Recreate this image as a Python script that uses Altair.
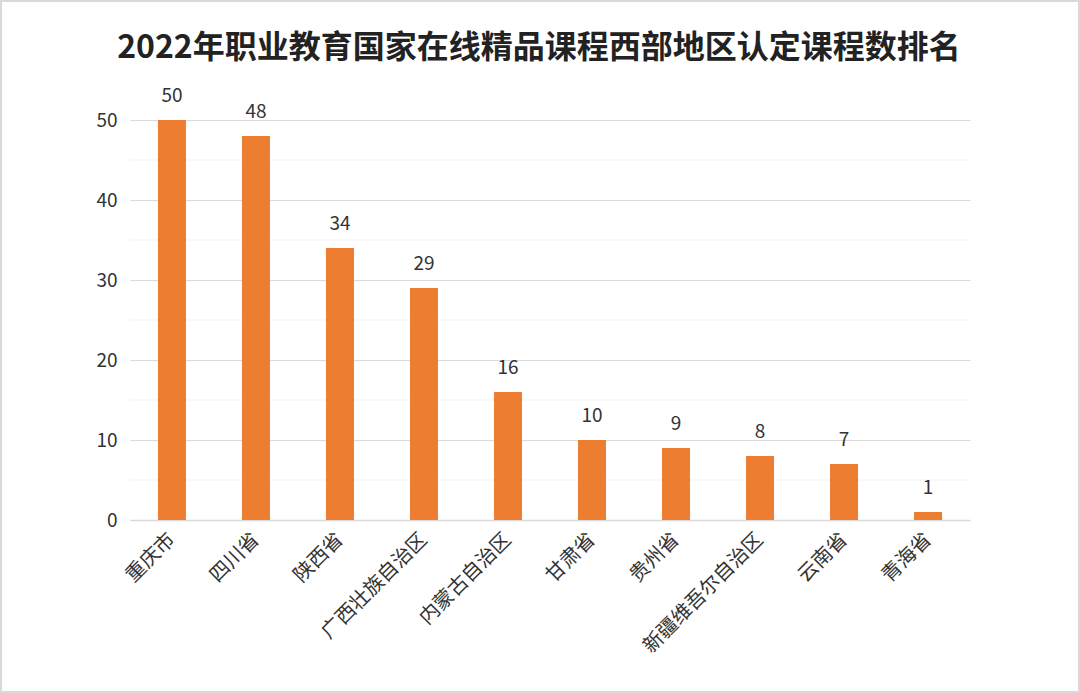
import altair as alt
import pandas as pd

title_text = "2022年职业教育国家在线精品课程西部地区认定课程数排名"
regions = ["重庆市", "四川省", "陕西省", "广西壮族自治区", "内蒙古自治区", "甘肃省", "贵州省", "新疆维吾尔自治区", "云南省", "青海省"]
counts = [50, 48, 34, 29, 16, 10, 9, 8, 7, 1]
minor_ticks = [5, 15, 25, 35, 45]

FONT = "Noto Sans CJK SC"
W, H = 840, 400

df = pd.DataFrame({"region": regions, "count": counts})
minor_df = pd.DataFrame({"v": minor_ticks})

x = alt.X("region:N", sort=regions, title=None,
          scale=alt.Scale(paddingInner=0.667, paddingOuter=0.333),
          axis=alt.Axis(labelAngle=-45, labelAlign="right", labelBaseline="middle",
                        labelFontSize=20, labelColor="#333333", labelFont=FONT,
                        labelPadding=16, ticks=False, domainColor="#d9d9d9",
                        domainWidth=1.5, labelLimit=300))
y = alt.Y("count:Q", title=None,
          scale=alt.Scale(domain=[0, 50], nice=False),
          axis=alt.Axis(values=[0, 10, 20, 30, 40, 50], grid=True, gridColor="#d9d9d9",
                        domain=False, ticks=False, labelFontSize=19, labelColor="#333333",
                        labelFont=FONT, labelPadding=13))

minor = alt.Chart(minor_df).mark_rule(color="#f2f2f2", strokeWidth=1).encode(
    y=alt.Y("v:Q", scale=alt.Scale(domain=[0, 50], nice=False)),
    x=alt.value(0), x2=alt.value(W))

bars = alt.Chart(df).mark_bar(color="#ED7D31", size=28).encode(x=x, y=y)

labels = alt.Chart(df).mark_text(baseline="middle", dy=-24, fontSize=19,
                                 color="#333333", font=FONT).encode(
    x=alt.X("region:N", sort=regions), y="count:Q", text="count:Q")

title = alt.Chart(pd.DataFrame({"t": [title_text]})).mark_text(
    fontSize=32, fontWeight="bold", color="#222222", font=FONT,
    align="center", baseline="middle").encode(
    text="t:N", x=alt.value(409), y=alt.value(-72))

border = alt.Chart(pd.DataFrame({"a": [0]})).mark_rect(
    fill=None, stroke="#d9d9d9", strokeWidth=2).encode(
    x=alt.value(-129), x2=alt.value(W + 109), y=alt.value(-119), y2=alt.value(H + 172))

chart = alt.layer(minor, bars, labels, title, border).properties(
    width=W, height=H,
    autosize=alt.AutoSizeParams(type="none"),
    padding={"left": 130, "top": 120, "right": 110, "bottom": 173},
    background="white"
).configure_view(stroke=None)

chart.save("out.html", embed_options={"renderer": "svg", "actions": False})
